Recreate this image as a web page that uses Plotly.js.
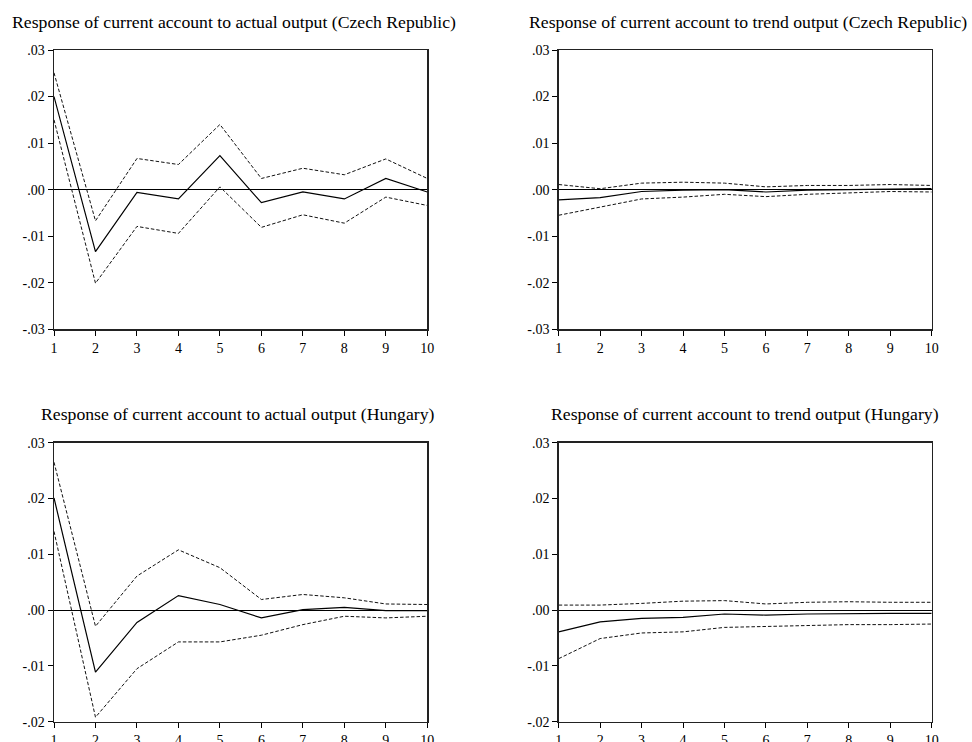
<!DOCTYPE html>
<html>
<head>
<meta charset="utf-8">
<script src="https://cdn.plot.ly/plotly-3.0.1.min.js"></script>
<style>
  html, body { margin: 0; padding: 0; background: #fff; }
  #chart { width: 972px; height: 742px; }
</style>
</head>
<body>
<div id="chart"></div>
<script>
// Impulse-response horizon (periods)
const periods = [1, 2, 3, 4, 5, 6, 7, 8, 9, 10];

// Czech Republic: response of current account to actual output
const czActual      = [0.0200, -0.0133, -0.0006, -0.0020, 0.0073, -0.0028, -0.0005, -0.0020, 0.0024, -0.0005];
const czActualUpper = [0.0251, -0.0067, 0.0067, 0.0054, 0.0140, 0.0024, 0.0046, 0.0032, 0.0066, 0.0024];
const czActualLower = [0.0150, -0.0201, -0.0079, -0.0094, 0.0006, -0.0081, -0.0054, -0.0072, -0.0016, -0.0034];

// Czech Republic: response of current account to trend output
const czTrend      = [-0.0022, -0.0017, -0.0004, -0.0001, 0.0000, -0.0005, -0.0001, 0.0000, 0.0002, 0.0002];
const czTrendUpper = [0.0011, 0.0002, 0.0014, 0.0016, 0.0014, 0.0006, 0.0009, 0.0009, 0.0011, 0.0009];
const czTrendLower = [-0.0055, -0.0037, -0.0020, -0.0016, -0.0010, -0.0015, -0.0010, -0.0007, -0.0004, -0.0005];

// Hungary: response of current account to actual output
const huActual      = [0.0201, -0.0111, -0.0022, 0.0026, 0.0010, -0.0014, 0.0001, 0.0005, -0.0001, -0.0001];
const huActualUpper = [0.0265, -0.0029, 0.0061, 0.0108, 0.0076, 0.0019, 0.0028, 0.0022, 0.0011, 0.0010];
const huActualLower = [0.0141, -0.0192, -0.0105, -0.0057, -0.0057, -0.0045, -0.0026, -0.0011, -0.0014, -0.0011];

// Hungary: response of current account to trend output
const huTrend      = [-0.0039, -0.0021, -0.0015, -0.0013, -0.0007, -0.0009, -0.0007, -0.0006, -0.0006, -0.0006];
const huTrendUpper = [0.0009, 0.0009, 0.0012, 0.0016, 0.0017, 0.0011, 0.0014, 0.0015, 0.0014, 0.0014];
const huTrendLower = [-0.0087, -0.0051, -0.0041, -0.0039, -0.0031, -0.0029, -0.0027, -0.0026, -0.0026, -0.0025];

// Panel titles
const panelTitles = [
  "Response of current account to actual output (Czech Republic)",
  "Response of current account to trend output (Czech Republic)",
  "Response of current account to actual output (Hungary)",
  "Response of current account to trend output (Hungary)"
];

// Y tick values and labels
const yTicksTop = [-0.03, -0.02, -0.01, 0, 0.01, 0.02, 0.03];
const yLabelsTop = ["-.03", "-.02", "-.01", ".00", ".01", ".02", ".03"];
const yTicksBottom = [-0.02, -0.01, 0, 0.01, 0.02, 0.03];
const yLabelsBottom = ["-.02", "-.01", ".00", ".01", ".02", ".03"];

const W = 972, H = 742;
const FONT = "'Liberation Serif', 'Times New Roman', serif";

// pixel boxes for each panel: [left, right, top, bottom]
const boxes = [
  [54, 427.3, 50, 329.3],
  [558.7, 931.7, 50, 329.3],
  [54, 427.3, 442.7, 721.7],
  [558.7, 931.7, 442.7, 721.7]
];

const series = [
  [czActual, czActualUpper, czActualLower],
  [czTrend, czTrendUpper, czTrendLower],
  [huActual, huActualUpper, huActualLower],
  [huTrend, huTrendUpper, huTrendLower]
];

const traces = [];
const layout = {
  width: W, height: H,
  margin: {l: 0, r: 0, t: 0, b: 0},
  paper_bgcolor: "#fff",
  plot_bgcolor: "#fff",
  showlegend: false,
  font: {family: FONT, size: 14, color: "#000"},
  annotations: []
};

// title centres in pixels
const titleX = [234, 748, 237.5, 745];
const titleY = [22, 22, 414, 414];

boxes.forEach((b, i) => {
  const n = i + 1;
  const xa = "x" + (n === 1 ? "" : n);
  const ya = "y" + (n === 1 ? "" : n);
  const [mid, up, lo] = series[i];
  const dash = {color: "#111", width: 1, dash: "3.5px,2px"};
  traces.push({x: periods, y: up, xaxis: xa, yaxis: ya, mode: "lines", line: dash, hoverinfo: "skip"});
  traces.push({x: periods, y: lo, xaxis: xa, yaxis: ya, mode: "lines", line: dash, hoverinfo: "skip"});
  traces.push({x: periods, y: mid, xaxis: xa, yaxis: ya, mode: "lines", line: {color: "#000", width: 1.2}, hoverinfo: "skip"});

  const top = i < 2;
  const yt = top ? yTicksTop : yTicksBottom;
  const yl = top ? yLabelsTop : yLabelsBottom;

  layout["xaxis" + (n === 1 ? "" : n)] = {
    domain: [b[0] / W, b[1] / W],
    anchor: ya,
    range: [1, 10],
    tickvals: periods,
    ticktext: periods.map(String),
    ticks: "outside", ticklen: 5, tickwidth: 1, tickcolor: "#000",
    showline: true, linecolor: "#222", linewidth: 1.5, mirror: true,
    showgrid: false, zeroline: false,
    tickfont: {family: FONT, size: 14, color: "#000"}
  };
  layout["yaxis" + (n === 1 ? "" : n)] = {
    domain: [1 - b[3] / H, 1 - b[2] / H],
    anchor: xa,
    range: [yt[0], yt[yt.length - 1]],
    tickvals: yt,
    ticktext: yl,
    ticks: "outside", ticklen: 5, tickwidth: 1, tickcolor: "#000",
    showline: true, linecolor: "#222", linewidth: 1.5, mirror: true,
    showgrid: false,
    zeroline: true, zerolinecolor: "#000", zerolinewidth: 1,
    tickfont: {family: FONT, size: 14, color: "#000"}
  };
  layout.annotations.push({
    text: panelTitles[i],
    xref: "paper", yref: "paper",
    x: titleX[i] / W, y: 1 - titleY[i] / H,
    xanchor: "center", yanchor: "middle",
    showarrow: false,
    font: {family: FONT, size: 17.7, color: "#000"}
  });
});

Plotly.newPlot("chart", traces, layout, {staticPlot: true, displayModeBar: false});
</script>
</body>
</html>
